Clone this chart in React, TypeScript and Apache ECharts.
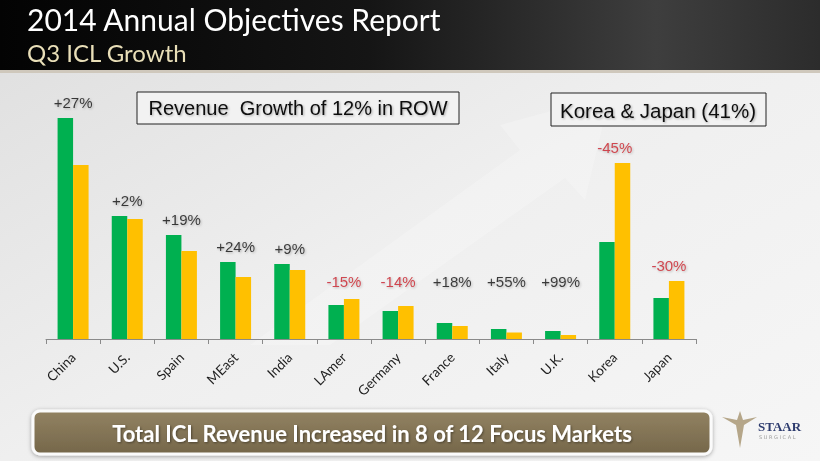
import React, { useEffect, useRef } from 'react';
import * as echarts from 'echarts';

// markets in chart order
const markets = ['China', 'U.S.', 'Spain', 'MEast', 'India', 'LAmer', 'Germany', 'France', 'Italy', 'U.K.', 'Korea', 'Japan'];
// current period ICL revenue (green) and prior period (gold), relative units
const currentRevenue = [221, 123, 104, 77, 75, 34, 28, 16, 10, 8, 97, 41];
const priorRevenue = [174, 120, 88, 62, 69, 40, 33, 13, 6.5, 4, 176, 58];
const growthLabels = ['+27%', '+2%', '+19%', '+24%', '+9%', '-15%', '-14%', '+18%', '+55%', '+99%', '-45%', '-30%'];

const labelShadow = {
  textShadowColor: 'rgba(0,0,0,0.3)',
  textShadowBlur: 2,
  textShadowOffsetX: 1,
  textShadowOffsetY: 1
};

const App: React.FC = () => {
  const chartRef = useRef<HTMLDivElement>(null);

  useEffect(() => {
    if (!chartRef.current) return;
    const chart = echarts.init(chartRef.current, undefined, { renderer: 'svg' });

    // label sits a little above the taller bar, never below a common floor
    const labelPoints = markets.map((m, i) => {
      const top = Math.max(currentRevenue[i], priorRevenue[i]);
      return {
        value: [i, Math.max(top + 16, 58)],
        label: { color: growthLabels[i].startsWith('-') ? '#c8202a' : '#111111' }
      };
    });

    const option = {
      animation: false,
      grid: { left: 46, right: 124, top: 99, bottom: 122 },
      xAxis: {
        type: 'category',
        data: markets,
        axisLine: { lineStyle: { color: '#8a8a8a', width: 1 } },
        axisTick: { show: true, length: 5, lineStyle: { color: '#8a8a8a' } },
        axisLabel: {
          rotate: 45,
          interval: 0,
          margin: 16,
          fontFamily: 'Lato',
          fontSize: 13.5,
          color: '#1e1e1e'
        }
      },
      yAxis: { type: 'value', min: 0, max: 240, show: false, splitLine: { show: false } },
      series: [
        {
          name: 'Current',
          type: 'bar',
          data: currentRevenue,
          barWidth: 15.5,
          barGap: '0%',
          itemStyle: { color: '#00b050' }
        },
        {
          name: 'Prior',
          type: 'bar',
          data: priorRevenue,
          barWidth: 15.5,
          barGap: '0%',
          itemStyle: { color: '#ffc000' }
        },
        {
          name: 'Growth',
          type: 'scatter',
          symbolSize: 0,
          data: labelPoints,
          silent: true,
          label: {
            show: true,
            position: 'inside',
            fontFamily: 'Liberation Sans, Arial',
            fontSize: 15,
            formatter: (p: any) => growthLabels[p.dataIndex],
            ...labelShadow
          },
          itemStyle: { color: 'transparent' }
        }
      ],
      graphic: [
        // page background
        {
          type: 'rect',
          z: -10,
          shape: { x: 0, y: 0, width: 820, height: 461 },
          style: {
            fill: new echarts.graphic.LinearGradient(0, 0, 1, 1, [
              { offset: 0, color: '#dedede' },
              { offset: 0.5, color: '#efefef' },
              { offset: 1, color: '#f6f6f6' }
            ])
          }
        },
        // faint arrow behind the bars
        {
          type: 'polygon',
          z: -9,
          shape: {
            points: [[250, 345], [520, 150], [500, 125], [610, 95], [585, 200], [565, 178], [330, 345]]
          },
          style: { fill: 'rgba(255,255,255,0.22)' }
        },
        // header band
        {
          type: 'rect',
          z: -8,
          shape: { x: 0, y: 0, width: 820, height: 70 },
          style: {
            fill: new echarts.graphic.LinearGradient(0, 0, 1, 0, [
              { offset: 0, color: '#030303' },
              { offset: 0.45, color: '#151515' },
              { offset: 0.8, color: '#3e3e3e' },
              { offset: 1, color: '#2c2c2c' }
            ])
          }
        },
        {
          type: 'rect',
          z: -7,
          shape: { x: 0, y: 70, width: 820, height: 3 },
          style: { fill: '#cfc8bc' }
        },
        {
          type: 'text',
          x: 27,
          y: 18.5,
          style: {
            text: '2014 Annual Objectives Report',
            fill: '#ffffff',
            font: '30px Lato',
            verticalAlign: 'middle'
          }
        },
        {
          type: 'text',
          x: 27,
          y: 52,
          style: {
            text: 'Q3 ICL Growth',
            fill: '#e9dfb8',
            font: '24px Lato',
            verticalAlign: 'middle'
          }
        },
        // callout boxes
        {
          type: 'rect',
          shape: { x: 137, y: 92, width: 322, height: 32 },
          style: { fill: '#f2f2f2', stroke: '#222222', lineWidth: 1 }
        },
        {
          type: 'text',
          x: 298,
          y: 108,
          style: {
            text: 'Revenue  Growth of 12% in ROW',
            fill: '#111111',
            font: '20px "Liberation Sans"',
            align: 'center',
            verticalAlign: 'middle',
            ...labelShadow
          }
        },
        {
          type: 'rect',
          shape: { x: 551, y: 93, width: 215, height: 33 },
          style: { fill: '#f2f2f2', stroke: '#222222', lineWidth: 1 }
        },
        {
          type: 'text',
          x: 658,
          y: 110,
          style: {
            text: 'Korea & Japan (41%)',
            fill: '#111111',
            font: '20.5px "Liberation Sans"',
            align: 'center',
            verticalAlign: 'middle',
            ...labelShadow
          }
        },
        // bottom banner
        {
          type: 'rect',
          shape: { x: 33, y: 411, width: 678, height: 43, r: 7 },
          style: {
            fill: new echarts.graphic.LinearGradient(0, 0, 0, 1, [
              { offset: 0, color: '#928262' },
              { offset: 1, color: '#75674a' }
            ]),
            stroke: '#fbfbfb',
            lineWidth: 3,
            shadowColor: 'rgba(0,0,0,0.35)',
            shadowBlur: 4,
            shadowOffsetY: 1
          }
        },
        {
          type: 'text',
          x: 372,
          y: 433,
          style: {
            text: 'Total ICL Revenue Increased in 8 of 12 Focus Markets',
            fill: '#ffffff',
            font: 'bold 22px Lato',
            align: 'center',
            verticalAlign: 'middle',
            textShadowColor: 'rgba(0,0,0,0.4)',
            textShadowBlur: 2,
            textShadowOffsetX: 1,
            textShadowOffsetY: 1
          }
        },
        // STAAR logo
        {
          type: 'polygon',
          shape: {
            points: [[740, 411], [743, 420], [757, 417], [744, 425], [740, 448], [736, 425], [722, 417], [737, 420]]
          },
          style: { fill: '#b5a689' }
        },
        {
          type: 'text',
          x: 758,
          y: 426,
          style: {
            text: 'STAAR',
            fill: '#2d3b6e',
            font: 'bold 13px "Liberation Serif"',
            verticalAlign: 'middle'
          }
        },
        {
          type: 'text',
          x: 759,
          y: 437,
          style: {
            text: 'S U R G I C A L',
            fill: '#9a9a9a',
            font: '5px "DejaVu Sans"',
            verticalAlign: 'middle'
          }
        }
      ]
    };

    chart.setOption(option);

    return () => {
      chart.dispose();
    };
  }, []);

  return <div ref={chartRef} style={{ position: 'fixed', left: 0, top: 0, width: '820px', height: '461px' }} />;
};

export default App;
